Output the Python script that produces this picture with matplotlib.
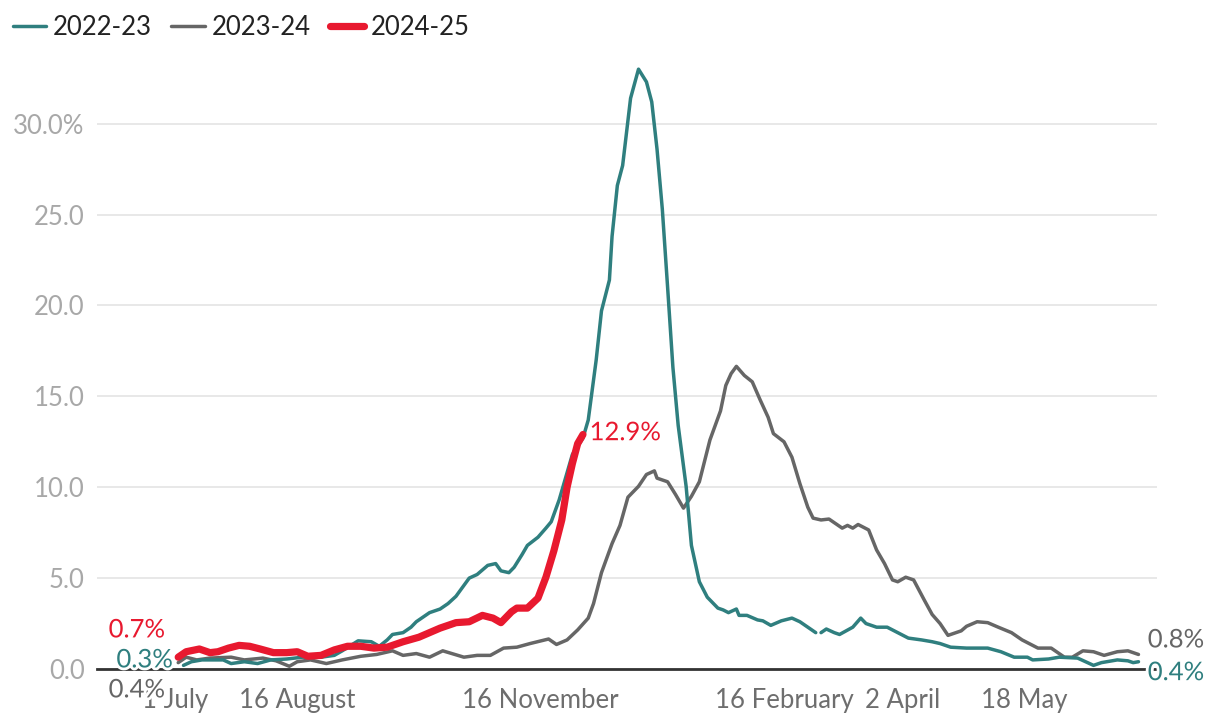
import matplotlib
matplotlib.use("Agg")
import matplotlib.pyplot as plt
import matplotlib.patheffects as pe
import numpy as np

# days since 1 July
days_2223 = [3, 6, 10, 18, 21, 26, 31, 36, 42, 48, 55, 60, 63, 69, 74, 77, 80, 82, 86, 89, 91,
             96, 100, 103, 106, 111, 114, 118, 121, 123, 126, 128, 131, 133, 137, 140, 142, 145,
             148, 150, 154, 156, 157, 159, 161, 164, 165, 167, 169, 172, 175, 178, 180, 182, 184,
             186, 188, 190, 193, 195, 198, 201, 205, 207, 209, 212, 213, 216, 220, 222, 225, 229,
             233, 236, 239, 242, 243, 244, 246, 249, 251, 256, 259, 261, 265, 269, 273, 277, 282,
             286, 289, 293, 299, 307, 312, 317, 322, 324, 330, 334, 341, 347, 350, 356, 360, 362, 364]
vals_2223 = [0.2, 0.4, 0.5, 0.5, 0.3, 0.4, 0.3, 0.5, 0.55, 0.65, 0.65, 0.75, 1.0, 1.55, 1.5, 1.25, 1.6,
             1.9, 2.0, 2.3, 2.6, 3.1, 3.3, 3.6, 4.0, 5.0, 5.2, 5.7, 5.8, 5.4, 5.3, 5.6, 6.3, 6.8, 7.25,
             7.75, 8.1, 9.3, 10.8, 11.8, 12.7, 13.7, 14.8, 17.0, 19.7, 21.4, 23.8, 26.6, 27.7, 31.4,
             33.0, 32.3, 31.2, 28.6, 25.3, 21.0, 16.6, 13.4, 10.05, 6.8, 4.8, 3.95, 3.35, 3.25, 3.1,
             3.3, 2.95, 2.95, 2.7, 2.65, 2.4, 2.65, 2.8, 2.6, 2.3, 2.0, np.nan, 2.0, 2.2, 2.0, 1.9,
             2.3, 2.8, 2.5, 2.3, 2.3, 2.0, 1.7, 1.6, 1.5, 1.4, 1.2, 1.15, 1.15, 0.95, 0.65, 0.65, 0.5,
             0.55, 0.65, 0.6, 0.2, 0.35, 0.5, 0.45, 0.35, 0.4]

days_2324 = [1, 4, 8, 13, 21, 26, 33, 38, 43, 46, 51, 57, 63, 70, 76, 82, 86, 91, 96, 101, 109, 114,
             119, 124, 129, 134, 141, 144, 148, 152, 156, 158, 161, 165, 168, 171, 175, 178, 181,
             182, 186, 189, 192, 195, 198, 202, 206, 208, 210, 212, 215, 218, 221, 224, 226, 230,
             233, 236, 239, 241, 244, 247, 252, 254, 256, 258, 262, 265, 268, 271, 273, 276, 279,
             283, 286, 289, 292, 297, 299, 303, 307, 311, 316, 320, 326, 331, 336, 339, 343, 347,
             351, 356, 360, 362, 364]
vals_2324 = [0.35, 0.65, 0.5, 0.6, 0.65, 0.5, 0.6, 0.45, 0.15, 0.4, 0.5, 0.3, 0.5, 0.7, 0.8, 1.0,
             0.75, 0.85, 0.65, 1.0, 0.65, 0.75, 0.75, 1.15, 1.2, 1.4, 1.65, 1.35, 1.6, 2.15, 2.8, 3.6,
             5.3, 6.9, 7.9, 9.45, 10.05, 10.7, 10.9, 10.5, 10.3, 9.6, 8.85, 9.5, 10.3, 12.6, 14.2,
             15.6, 16.25, 16.65, 16.15, 15.8, 14.8, 13.85, 12.95, 12.5, 11.65, 10.2, 8.9, 8.3, 8.2,
             8.25, 7.75, 7.9, 7.75, 7.95, 7.65, 6.55, 5.8, 4.9, 4.8, 5.05, 4.9, 3.8, 3.0, 2.5, 1.85,
             2.1, 2.35, 2.6, 2.55, 2.3, 2.0, 1.6, 1.15, 1.15, 0.65, 0.65, 1.0, 0.95, 0.75, 0.95, 1.0,
             0.9, 0.8]

days_2425 = [1, 4, 9, 13, 16, 20, 24, 28, 32, 37, 42, 46, 50, 55, 60, 65, 70, 75, 80, 86, 92, 96,
             100, 106, 111, 116, 120, 123, 127, 129, 133, 137, 140, 143, 146, 148, 150, 152, 154]
vals_2425 = [0.65, 0.95, 1.1, 0.9, 0.95, 1.15, 1.3, 1.25, 1.1, 0.9, 0.9, 0.95, 0.7, 0.75, 1.05, 1.25,
             1.25, 1.15, 1.2, 1.5, 1.75, 2.0, 2.25, 2.55, 2.6, 2.95, 2.8, 2.55, 3.15, 3.35, 3.35, 3.9,
             5.05, 6.5, 8.2, 10.0, 11.3, 12.4, 12.9]

tick_days = [0, 46, 138, 230, 275, 321]
tick_labels = ["1 July", "16 August", "16 November", "16 February", "2 April", "18 May"]
y_ticks = [0, 5, 10, 15, 20, 25, 30]
y_labels = ["0.0", "5.0", "10.0", "15.0", "20.0", "25.0", "30.0%"]

TEAL = "#2f7f7f"
GREY = "#666666"
RED = "#e8192f"
FS = 18.5

plt.rcParams["font.family"] = ["Lato", "DejaVu Sans"]

fig = plt.figure(figsize=(12.2, 7.22), dpi=100)
ax = fig.add_axes([97 / 1220, 1 - 669 / 722, 1060 / 1220, 618 / 722])

ax.plot(days_2223, vals_2223, color=TEAL, lw=2.5, solid_capstyle="round", label="2022-23", zorder=3)
ax.plot(days_2324, vals_2324, color=GREY, lw=2.5, solid_capstyle="round", label="2023-24", zorder=2)
ax.plot(days_2425, vals_2425, color=RED, lw=5.2, solid_capstyle="round", label="2024-25", zorder=4)

ax.set_xlim(-29.7, 371)
ax.set_ylim(0, 34)
ax.set_yticks(y_ticks)
ax.set_yticklabels(y_labels)
ax.set_xticks(tick_days)
ax.set_xticklabels(tick_labels)
ax.tick_params(axis="y", length=0, pad=9, labelsize=FS, labelcolor="#a8a8a8")
ax.tick_params(axis="x", length=0, pad=14, labelsize=FS, labelcolor="#6e6e6e")
ax.grid(axis="y", color="#e6e6e6", lw=1.3)
ax.set_axisbelow(True)
for s in ["top", "right", "left"]:
    ax.spines[s].set_visible(False)
ax.spines["bottom"].set_color("#333333")
ax.spines["bottom"].set_linewidth(2)
ax.spines["bottom"].set_zorder(1)

halo = [pe.withStroke(linewidth=4, foreground="white")]
lab = dict(fontsize=FS, va="center", path_effects=halo, zorder=6, clip_on=False)
ax.text(-4, 2.15, "0.7%", color=RED, ha="right", **lab)
ax.text(-1, 0.5, "0.3%", color=TEAL, ha="right", **lab)
ax.text(-4, -1.15, "0.4%", color=GREY, ha="right", **lab)
ax.text(156.5, 13.0, "12.9%", color=RED, ha="left", **lab)
ax.text(367.5, 1.6, "0.8%", color=GREY, ha="left", **lab)
ax.text(367.5, -0.2, "0.4%", color=TEAL, ha="left", **lab)

leg = fig.legend(loc="upper left", bbox_to_anchor=(0.004, 0.99), ncol=3, frameon=False,
                 fontsize=FS, handlelength=1.3, handletextpad=0.28, columnspacing=0.75,
                 borderaxespad=0.1, borderpad=0.2)
for t in leg.get_texts():
    t.set_color("#222222")

fig.savefig("out.png", dpi=100)
